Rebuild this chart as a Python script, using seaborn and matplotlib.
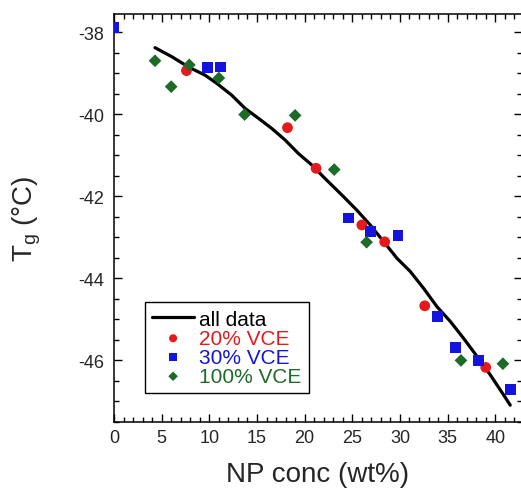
import matplotlib
matplotlib.use("Agg")
import matplotlib.pyplot as plt
import seaborn as sns
import pandas as pd
from matplotlib.ticker import MultipleLocator

# ---- data ----
x20 = [7.6, 18.2, 21.2, 26.0, 28.4, 32.6, 39.0]
y20 = [-38.94, -40.33, -41.32, -42.70, -43.11, -44.67, -46.17]

x30 = [0.0, 9.8, 11.2, 24.6, 26.9, 29.8, 33.9, 35.8, 38.2, 41.6]
y30 = [-37.88, -38.87, -38.85, -42.53, -42.85, -42.95, -44.93, -45.68, -46.00, -46.70]

x100 = [4.3, 6.0, 7.9, 11.0, 13.7, 19.0, 23.1, 26.5, 36.4, 40.8]
y100 = [-38.70, -39.33, -38.80, -39.12, -40.01, -40.03, -41.35, -43.12, -46.00, -46.08]

fit_x = [4.30, 6.06, 7.80, 9.55, 10.78, 12.36, 13.75, 15.15, 16.56, 17.95, 19.35,
         20.76, 22.15, 23.03, 24.08, 25.48, 26.88, 28.27, 29.68, 31.07, 32.47,
         33.88, 35.28, 36.67, 38.08, 39.47, 40.87, 41.57]
fit_y = [-38.38, -38.60, -38.85, -39.05, -39.25, -39.54, -39.86, -40.10, -40.35,
         -40.63, -40.96, -41.24, -41.57, -41.77, -42.01, -42.34, -42.70, -43.10,
         -43.51, -43.83, -44.24, -44.69, -45.05, -45.46, -45.90, -46.35, -46.84,
         -47.09]

series_labels = ["all data", "20% VCE", "30% VCE", "100% VCE"]
x_label = "NP conc (wt%)"
y_label = r"T$_{\mathrm{g}}$ (°C)"

RED = "#e51a1e"
BLUE = "#1414dc"
GREEN = "#1c6b26"

sns.set_style("ticks")
plt.rcParams["font.family"] = ["Liberation Sans", "DejaVu Sans"]
plt.rcParams["mathtext.fontset"] = "custom"
plt.rcParams["mathtext.rm"] = "Liberation Sans"
plt.rcParams["axes.unicode_minus"] = False

fig = plt.figure(figsize=(5.21, 4.89), dpi=100)
ax = fig.add_axes([114 / 521, 1 - 423 / 489, 407.5 / 521, 408 / 489])

fit_df = pd.DataFrame({"x": fit_x, "y": fit_y})
sns.lineplot(data=fit_df, x="x", y="y", ax=ax, color="black", lw=2.3,
             label=series_labels[0], sort=False, zorder=2)

d20 = pd.DataFrame({"x": x20, "y": y20})
d30 = pd.DataFrame({"x": x30, "y": y30})
d100 = pd.DataFrame({"x": x100, "y": y100})
sns.scatterplot(data=d20, x="x", y="y", ax=ax, color=RED, marker="o", s=60,
                edgecolor="none", label=series_labels[1], zorder=3)
sns.scatterplot(data=d30, x="x", y="y", ax=ax, color=BLUE, marker="s", s=60,
                edgecolor="none", label=series_labels[2], zorder=3)
sns.scatterplot(data=d100, x="x", y="y", ax=ax, color=GREEN, marker="D", s=42,
                edgecolor="none", label=series_labels[3], zorder=3)

ax.set_xlim(0, 42.75)
ax.set_ylim(-47.5, -37.56)
ax.xaxis.set_major_locator(MultipleLocator(5))
ax.xaxis.set_minor_locator(MultipleLocator(1))
ax.yaxis.set_major_locator(MultipleLocator(2))
ax.yaxis.set_minor_locator(MultipleLocator(0.5))
ax.tick_params(which="both", direction="in", top=True, right=True, color="black")
ax.tick_params(which="major", length=6, width=1)
ax.tick_params(which="minor", length=3.5, width=1)
ax.tick_params(axis="x", which="major", labelsize=13, pad=5)
ax.tick_params(axis="y", which="major", labelsize=13, pad=7)
for sp in ax.spines.values():
    sp.set_visible(True)
    sp.set_color("black")
    sp.set_linewidth(1.1)

ax.set_xlabel(x_label, fontsize=20)
ax.set_ylabel(y_label, fontsize=20)
ax.xaxis.set_label_coords(0.5, -0.095)
ax.yaxis.set_label_coords(-0.175, 0.5)

leg = ax.legend(loc="lower left", bbox_to_anchor=(0.076, 0.071), borderaxespad=0,
                fontsize=15, frameon=True, fancybox=False, edgecolor="black",
                framealpha=1, handlelength=2.0, handletextpad=0.25,
                labelspacing=0.0, borderpad=0.35, markerscale=0.75)
leg.get_frame().set_linewidth(1.0)
for txt, col in zip(leg.get_texts(), ["black", RED, BLUE, GREEN]):
    txt.set_color(col)

fig.savefig("out.png", dpi=100)
